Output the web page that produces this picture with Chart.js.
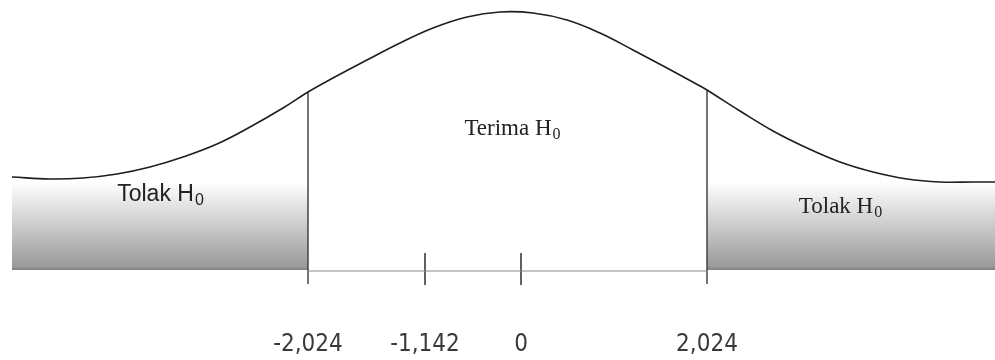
<!DOCTYPE html>
<html>
<head>
<meta charset="utf-8">
<title>Uji t dua sisi</title>
<script src="https://cdn.jsdelivr.net/npm/chart.js@4.4.1/dist/chart.umd.min.js"></script>
<style>
  html, body { margin: 0; padding: 0; background: #fff; }
  #wrap { width: 995px; height: 360px; }
</style>
</head>
<body>
<div id="wrap"><canvas id="c" width="995" height="360"></canvas></div>
<script>
// Curve of the test statistic distribution (horizontal position, height above the axis)
const curveX = [12, 50, 83, 117, 150, 183, 217, 250, 283, 308, 333, 367, 400, 433, 467, 500, 533, 567, 600, 633, 667, 700, 707, 740, 773, 807, 840, 873, 907, 940, 973, 995];
const curveH = [93, 91, 92, 96, 103, 113, 126, 143, 162, 178, 192, 210, 227, 242, 253, 258, 257, 250, 237, 220, 202, 184, 180, 159, 139, 122, 108, 98, 91, 88, 88, 88];

// Axis marks and their labels (t values)
const tickPos = [308, 425, 521, 707];
const tickLabels = ['-2,024', '-1,142', '0', '2,024'];

// Rejection regions (left and right) and their height
const rejectLeft = [12, 308];
const rejectRight = [707, 995];
const rejectHeight = 88;

// Critical lines: heights where they meet the curve
const critPos = [308, 707];
const critTop = [178, 180];

// Region captions
const captions = [
  { text: 'Terima H', sub: '0', x: 512, h: 143, font: 'Liberation Serif' },
  { text: 'Tolak H', sub: '0', x: 160, h: 77, font: 'Liberation Sans' },
  { text: 'Tolak H', sub: '0', x: 840, h: 65, font: 'Liberation Serif' }
];

function grayFill(ctx) {
  const chart = ctx.chart;
  const ys = chart.scales.y;
  if (!chart.chartArea || !ys) return '#c0c0c0';
  const top = ys.getPixelForValue(rejectHeight);
  const bot = ys.getPixelForValue(0);
  if (!isFinite(top) || !isFinite(bot)) return '#c0c0c0';
  const g = chart.ctx.createLinearGradient(0, top, 0, bot);
  g.addColorStop(0, '#ffffff');
  g.addColorStop(0.45, '#d0d0d0');
  g.addColorStop(0.96, '#9a9a9a');
  g.addColorStop(1, '#808080');
  return g;
}

const datasets = [];
// shaded rejection areas
[rejectLeft, rejectRight].forEach(r => {
  datasets.push({
    data: [{ x: r[0], y: rejectHeight }, { x: r[1], y: rejectHeight }],
    borderWidth: 0, borderColor: 'rgba(0,0,0,0)', pointRadius: 0,
    fill: 'origin', backgroundColor: grayFill, order: 5
  });
});
// distribution curve
datasets.push({
  data: curveX.map((x, i) => ({ x, y: curveH[i] })),
  borderColor: '#1e1e1e', borderWidth: 1.6, pointRadius: 0,
  tension: 0.4, fill: false, order: 1
});
// axis line between the critical values
datasets.push({
  data: [{ x: tickPos[0], y: -1 }, { x: tickPos[tickPos.length - 1], y: -1 }],
  borderColor: '#8a8a8a', borderWidth: 1.2, pointRadius: 0, fill: false, order: 2
});
// critical lines
critPos.forEach((p, i) => {
  datasets.push({
    data: [{ x: p, y: critTop[i] }, { x: p, y: -14 }],
    borderColor: '#3a3a3a', borderWidth: 1.4, pointRadius: 0, fill: false, order: 2
  });
});
// small marks for the inner values
tickPos.forEach(p => {
  if (critPos.includes(p)) return;
  datasets.push({
    data: [{ x: p, y: 17 }, { x: p, y: -15 }],
    borderColor: '#3a3a3a', borderWidth: 1.6, pointRadius: 0, fill: false, order: 2
  });
});

const labelsPlugin = {
  id: 'labelsPlugin',
  afterDatasetsDraw(chart) {
    const { ctx, scales: { x, y } } = chart;
    ctx.save();
    // tick labels
    ctx.fillStyle = '#3a3a3a';
    ctx.font = '300 24px "DejaVu Sans Condensed", "Liberation Sans Narrow", sans-serif';
    ctx.textAlign = 'center';
    ctx.textBaseline = 'middle';
    tickPos.forEach((p, i) => {
      ctx.fillText(tickLabels[i], x.getPixelForValue(p), y.getPixelForValue(-75));
    });
    // captions with subscript
    captions.forEach(c => {
      ctx.font = '23px "' + c.font + '", serif';
      const w1 = ctx.measureText(c.text).width;
      ctx.font = '16px "' + c.font + '", serif';
      const w2 = ctx.measureText(c.sub).width;
      const cx = x.getPixelForValue(c.x);
      const cy = y.getPixelForValue(c.h);
      const left = cx - (w1 + w2) / 2;
      ctx.textAlign = 'left';
      ctx.textBaseline = 'alphabetic';
      ctx.fillStyle = '#222';
      ctx.font = '23px "' + c.font + '", serif';
      ctx.fillText(c.text, left, cy + 8);
      ctx.font = '16px "' + c.font + '", serif';
      ctx.fillText(c.sub, left + w1 + 1, cy + 12);
    });
    ctx.restore();
  }
};

new Chart(document.getElementById('c'), {
  type: 'line',
  data: { datasets },
  options: {
    responsive: false,
    animation: false,
    layout: { padding: 0 },
    plugins: { legend: { display: false }, tooltip: { enabled: false } },
    scales: {
      x: { type: 'linear', min: 0, max: 995, display: false },
      y: { type: 'linear', min: -90, max: 270, display: false }
    },
    elements: { line: { borderCapStyle: 'butt' } }
  },
  plugins: [labelsPlugin]
});
</script>
</body>
</html>
